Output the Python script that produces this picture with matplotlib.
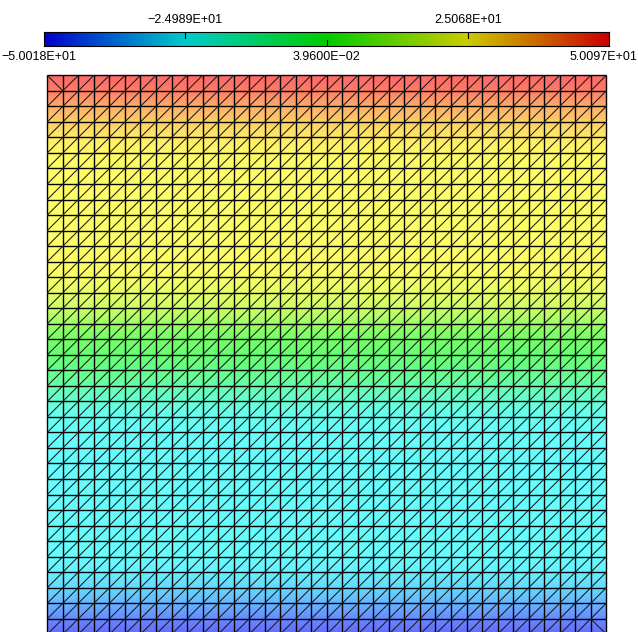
import numpy as np
import matplotlib as mpl
mpl.use('Agg')
import matplotlib.pyplot as plt
import matplotlib.tri as mtri
from matplotlib.collections import LineCollection
from matplotlib.colors import ListedColormap, hsv_to_rgb

plt.rcParams['font.family'] = ['Liberation Sans', 'DejaVu Sans']

# field value on each row of mesh nodes, top row first (36x36 square mesh)
row_values = [50.097, 46.5, 38.0, 33.0, 28.5, 25.8, 25.2, 25.0, 25.0, 25.0,
              25.0, 24.9, 24.8, 24.0, 21.0, 16.5, 8.5, 2.0, -2.0, -5.0,
              -11.0, -18.0, -23.0, -24.5, -25.0, -25.0, -25.0, -25.0, -25.0, -25.0,
              -25.0, -25.0, -27.0, -31.5, -37.0, -44.0, -50.0178]
vmin, vmax = -50.0178, 50.0970
n_cells = 36

# colour ramps: blue -> cyan -> green -> yellow -> red
hue = np.linspace(2/3, 0, 256)
def ramp(sat, val):
    hsv = np.stack([hue, np.full_like(hue, sat), np.full_like(hue, val)], axis=1)
    return ListedColormap(hsv_to_rgb(hsv))
fill_cmap = ramp(0.6, 1.0)
bar_cmap = ramp(1.0, 0.8)

# mesh nodes
xs = np.linspace(0, 1, n_cells + 1)
ys = np.linspace(1, 0, n_cells + 1)
X, Y = np.meshgrid(xs, ys)
Z = np.repeat(np.array(row_values)[:, None], n_cells + 1, axis=1)

def node(i, j):
    return j * (n_cells + 1) + i

tris = []
for j in range(n_cells):
    for i in range(n_cells):
        tl, tr = node(i, j), node(i + 1, j)
        bl, br = node(i, j + 1), node(i + 1, j + 1)
        corner = (i == 0 and j == 0) or (i == n_cells - 1 and j == n_cells - 1)
        if corner:
            tris += [[tl, bl, br], [tl, br, tr]]
        else:
            tris += [[bl, br, tr], [bl, tr, tl]]
tri = mtri.Triangulation(X.ravel(), Y.ravel(), np.array(tris))

W, H = 638, 632
fig = plt.figure(figsize=(W / 100, H / 100), dpi=100)

ax = fig.add_axes([47.3 / W, 1 - 634.3 / H, 559 / W, 559 / H])
ax.tripcolor(tri, Z.ravel(), shading='gouraud', cmap=fill_cmap, vmin=vmin, vmax=vmax)

# mesh edges: grid lines a bit heavier than the diagonals
segs = np.stack([np.column_stack([tri.x[e], tri.y[e]]) for e in tri.edges.T], axis=1)
diag = (np.abs(segs[:, 0, 0] - segs[:, 1, 0]) > 1e-9) & (np.abs(segs[:, 0, 1] - segs[:, 1, 1]) > 1e-9)
ax.add_collection(LineCollection(segs[~diag], colors='black', linewidths=1.0, clip_on=False))
ax.add_collection(LineCollection(segs[diag], colors='#1a1a1a', linewidths=0.75, clip_on=False))
ax.set_xlim(0, 1)
ax.set_ylim(0, 1)
ax.axis('off')

# colour bar along the top
cax = fig.add_axes([44 / W, 1 - 46 / H, 565 / W, 14 / H])
grad = np.linspace(vmin, vmax, 512)[None, :]
cax.imshow(grad, aspect='auto', cmap=bar_cmap, vmin=vmin, vmax=vmax,
           extent=[vmin, vmax, 0, 1])
cax.set_xlim(vmin, vmax)
cax.set_ylim(0, 1)
cax.set_xticks([])
cax.set_yticks([])
for sp in cax.spines.values():
    sp.set_linewidth(0.8)

bar_ticks = np.linspace(vmin, vmax, 5)
for k, t in enumerate(bar_ticks):
    label = '{:.4E}'.format(t).replace('-', '\u2212')
    xf = (44 + (t - vmin) / (vmax - vmin) * 565) / W
    ha = 'center'
    if k == 0:
        xf, ha = 1 / W, 'left'
    elif k == 4:
        xf, ha = 637 / W, 'right'
    if k % 2 == 1:
        cax.plot([t, t], [1, 0.6], color='black', lw=0.8)
        fig.text(xf, 1 - 20 / H, label, ha=ha, va='center', fontsize=9)
    else:
        if 0 < k < 4:
            cax.plot([t, t], [0, 0.45], color='black', lw=0.8)
        fig.text(xf, 1 - 57 / H, label, ha=ha, va='center', fontsize=9)

fig.savefig('out.png', dpi=100)
